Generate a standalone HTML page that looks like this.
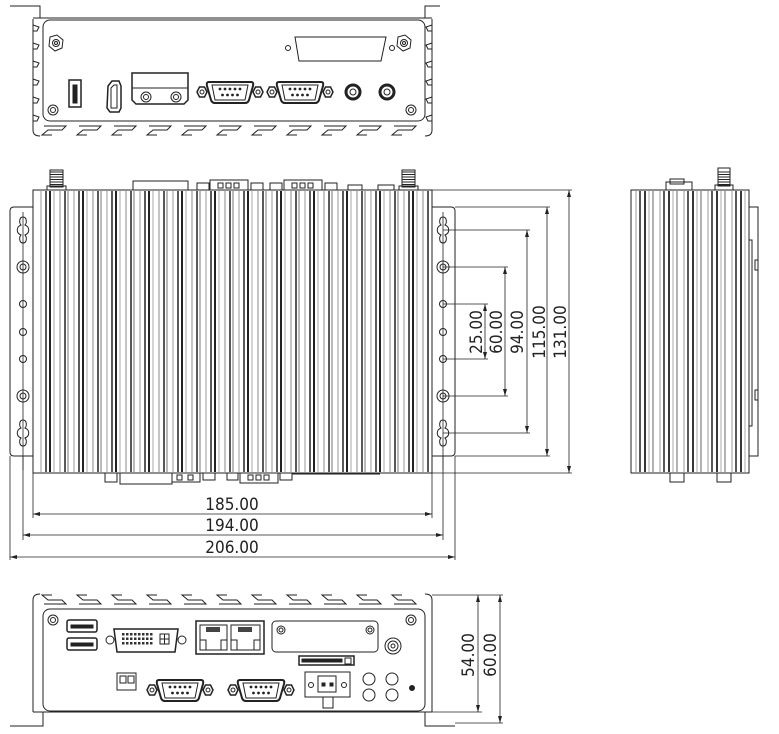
<!DOCTYPE html>
<html><head><meta charset="utf-8"><style>
html,body{margin:0;padding:0;background:#fff;}
svg{display:block;}
text{font-family:"DejaVu Sans Condensed","Liberation Sans",sans-serif;fill:#222;}
</style></head><body>
<svg id="s" width="779" height="734" viewBox="0 0 779 734" xmlns="http://www.w3.org/2000/svg" fill="none" stroke="#222" stroke-width="1">
<!-- ===== TOP VIEW ===== -->
<g id="top">
<path d="M10 6 H40 V18 M33 18 H432 M425 18 V6 H440"/>
<rect x="43" y="20" width="382" height="101" rx="7"/>
<g id="topfins"></g>
<polygon points="50,37 57,35 63,40 62,48 55,51 49,46" /><circle cx="56" cy="43" r="3.5"/><circle cx="56" cy="43" r="1.5"/>
<polygon points="398,37 405,35 411,40 410,48 403,51 397,46" /><circle cx="404" cy="43" r="3.5"/><circle cx="404" cy="43" r="1.5"/>
<circle cx="53" cy="110" r="5"/><circle cx="53" cy="110" r="2.5"/>
<circle cx="411" cy="110" r="5"/><circle cx="411" cy="110" r="2.5"/>
<path d="M295 37 H386 L381 61 H299 Z"/><circle cx="288" cy="48" r="2.5"/><circle cx="392" cy="48" r="2.5"/>
<rect x="69" y="80" width="12" height="27" stroke-width="1.5"/><rect x="73" y="85" width="4" height="18" fill="#222"/>
<path d="M108 86 L112 81 H119 L121 86 V108 L119 112 H110 L107 108 Z" stroke-width="1.5"/><path d="M111 88 L114 85 H117 V108 H111 Z"/>
<path d="M132 73 H188 V100 L184 104 H136 L132 100 Z" stroke-width="1.5"/><line x1="132" y1="88" x2="188" y2="88"/>
<circle cx="146" cy="97" r="5"/><circle cx="146" cy="97" r="2.5"/><circle cx="176" cy="97" r="5"/><circle cx="176" cy="97" r="2.5"/>
<g id="topdb"></g>
<circle cx="353" cy="92" r="7" stroke-width="3"/><circle cx="353" cy="92" r="3"/>
<circle cx="387" cy="92" r="7" stroke-width="3"/><circle cx="387" cy="92" r="3"/>
</g>

<!-- ===== MIDDLE VIEW ===== -->
<g id="mid">
<path d="M33 207 H14 Q10 207 10 211 V452 Q10 456 14 456 H33"/>
<path d="M432 207 H451 Q455 207 455 211 V452 Q455 456 451 456 H432"/>
<rect x="33" y="190" width="399" height="283"/>
<g id="midstripes"></g>
<rect x="50" y="170" width="13" height="17" fill="#fff"/>
<rect x="47" y="186" width="19" height="4"/>
<rect x="402" y="170" width="13" height="17" fill="#fff"/>
<rect x="399" y="186" width="19" height="4"/>
<!-- top connectors -->
<rect x="133" y="181" width="55" height="9"/>
<rect x="197" y="183" width="12" height="7"/><rect x="210" y="180" width="38" height="10"/><rect x="251" y="183" width="12" height="7"/>
<rect x="218" y="183" width="5" height="5"/><rect x="226" y="183" width="5" height="5"/><rect x="234" y="183" width="5" height="5"/>
<rect x="270" y="183" width="12" height="7"/><rect x="284" y="180" width="38" height="10"/><rect x="325" y="183" width="12" height="7"/>
<rect x="292" y="183" width="5" height="5"/><rect x="300" y="183" width="5" height="5"/><rect x="308" y="183" width="5" height="5"/>
<rect x="348" y="185" width="14" height="5"/><rect x="378" y="185" width="16" height="5"/>
<!-- bottom connectors -->
<rect x="105" y="473" width="12" height="9"/><rect x="120" y="473" width="52" height="11"/><rect x="172" y="473" width="28" height="9"/>
<rect x="177" y="475" width="5" height="5"/><rect x="188" y="475" width="5" height="5"/>
<rect x="203" y="473" width="12" height="7"/><rect x="227" y="473" width="11" height="7"/><rect x="240" y="473" width="38" height="10"/><rect x="280" y="473" width="12" height="7"/>
<rect x="248" y="475" width="5" height="5"/><rect x="256" y="475" width="5" height="5"/><rect x="264" y="475" width="5" height="5"/>
<line x1="292" y1="474" x2="380" y2="474"/>
<g id="holes"></g>
</g>

<!-- dims -->
<g stroke-width="0.8">
<line x1="33" y1="473" x2="33" y2="518"/><line x1="432" y1="473" x2="432" y2="518"/>
<line x1="23" y1="456" x2="23" y2="540"/><line x1="443" y1="456" x2="443" y2="540"/>
<line x1="10" y1="456" x2="10" y2="560"/><line x1="455" y1="456" x2="455" y2="560"/>
<line x1="33" y1="514" x2="432" y2="514"/><line x1="23" y1="535" x2="443" y2="535"/><line x1="10" y1="557" x2="455" y2="557"/>
<line x1="432" y1="190" x2="572" y2="190"/><line x1="432" y1="473" x2="572" y2="473"/>
<line x1="455" y1="207" x2="550" y2="207"/><line x1="455" y1="456" x2="550" y2="456"/>
<line x1="443" y1="230" x2="530" y2="230"/><line x1="443" y1="433" x2="530" y2="433"/>
<line x1="443" y1="267" x2="508" y2="267"/><line x1="443" y1="396" x2="508" y2="396"/>
<line x1="443" y1="304" x2="488" y2="304"/><line x1="443" y1="359" x2="488" y2="359"/>
<line x1="569" y1="190" x2="569" y2="473"/><line x1="547" y1="207" x2="547" y2="456"/>
<line x1="527" y1="230" x2="527" y2="433"/><line x1="505" y1="267" x2="505" y2="396"/><line x1="485" y1="304" x2="485" y2="359"/>
</g>
<g fill="#222" stroke="none" id="arrows"></g>
<g stroke="none">
<text x="232" y="510" font-size="17" text-anchor="middle">185.00</text>
<text x="232" y="531" font-size="17" text-anchor="middle">194.00</text>
<text x="232" y="553" font-size="17" text-anchor="middle">206.00</text>
<text transform="translate(482,332) rotate(-90)" font-size="17" text-anchor="middle">25.00</text>
<text transform="translate(502,332) rotate(-90)" font-size="17" text-anchor="middle">60.00</text>
<text transform="translate(523,332) rotate(-90)" font-size="17" text-anchor="middle">94.00</text>
<text transform="translate(545,332) rotate(-90)" font-size="17" text-anchor="middle">115.00</text>
<text transform="translate(566,332) rotate(-90)" font-size="17" text-anchor="middle">131.00</text>
<text transform="translate(474,655) rotate(-90)" font-size="17" text-anchor="middle">54.00</text>
<text transform="translate(496,655) rotate(-90)" font-size="17" text-anchor="middle">60.00</text>
</g>

<!-- ===== SIDE VIEW ===== -->
<g id="side">
<rect x="631" y="190" width="118" height="283"/>
<g id="sidestripes"></g>
<path d="M749 207 H758 V456 H749"/><path d="M749 240 H752 V426 H749"/>
<rect x="755" y="260" width="3" height="10"/><rect x="755" y="390" width="3" height="10"/>
<rect x="666" y="182" width="26" height="8"/><rect x="670" y="179" width="14" height="5"/>
<rect x="718" y="168" width="12" height="18" fill="#fff"/><rect x="715" y="185" width="18" height="5"/>
<rect x="670" y="473" width="14" height="9"/><rect x="717" y="473" width="14" height="9"/>
</g>
<g id="antL"></g>

<!-- ===== BOTTOM VIEW ===== -->
<g id="bot">
<rect x="43" y="609" width="382" height="102" rx="7"/>
<g id="botfins"></g>
<path d="M10 726 H43 V712 M33 712 H432 M425 712 V726 H455"/>
<circle cx="53" cy="620" r="5"/><circle cx="53" cy="620" r="2.5"/>
<circle cx="411" cy="620" r="5"/><circle cx="411" cy="620" r="2.5"/>
<rect x="67" y="620" width="30" height="12" rx="2" stroke-width="1.5"/><rect x="71" y="625" width="22" height="3" fill="#222"/>
<rect x="67" y="638" width="30" height="12" rx="2" stroke-width="1.5"/><rect x="71" y="643" width="22" height="3" fill="#222"/>
<circle cx="110" cy="640" r="4"/><circle cx="182" cy="640" r="4"/>
<path d="M114 629 H178 L175 652 H117 Z" stroke-width="1.5"/>
<g id="dvi"></g>
<rect x="196" y="621" width="68" height="33" stroke-width="1.5"/>
<path d="M200 625 H227 V650 H200 Z M231 625 H260 V650 H231 Z"/>
<rect x="206" y="627" width="14" height="5" fill="#444" stroke="none"/><rect x="238" y="627" width="14" height="5" fill="#444" stroke="none"/>
<path d="M200 640 H206 V650 M221 650 V640 H227 M231 640 H237 V650 M254 650 V640 H260"/>
<rect x="272" y="621" width="106" height="31" rx="4"/>
<circle cx="281" cy="630" r="4"/><circle cx="281" cy="630" r="2"/><circle cx="370" cy="630" r="4"/><circle cx="370" cy="630" r="2"/>
<circle cx="393" cy="646" r="8"/><circle cx="393" cy="646" r="5"/><circle cx="393" cy="646" r="2"/>
<rect x="299" y="656" width="55" height="9" stroke-width="1.5"/><rect x="302" y="659" width="40" height="3" fill="#222"/><rect x="345" y="658" width="6" height="6"/>
<rect x="117" y="673" width="19" height="17"/><rect x="120" y="676" width="6" height="7"/><rect x="128" y="676" width="6" height="7"/>
<g id="botdb"></g>
<rect x="305" y="672" width="45" height="25"/><path d="M318 676 H336 V692 H318 Z"/><rect x="323" y="697" width="10" height="11"/>
<circle cx="311" cy="685" r="2.5"/><circle cx="344" cy="685" r="2.5"/>
<rect x="322" y="683" width="3" height="3" fill="#222"/><rect x="330" y="683" width="3" height="3" fill="#222"/>
<circle cx="369" cy="679" r="6"/><circle cx="369" cy="695" r="6"/><circle cx="392" cy="679" r="6"/><circle cx="392" cy="695" r="6"/>
<circle cx="412" cy="688" r="2.5" fill="#222"/>
<g stroke-width="0.8">
<line x1="432" y1="595" x2="503" y2="595"/><line x1="432" y1="712" x2="482" y2="712"/><line x1="455" y1="723" x2="503" y2="723"/>
<line x1="478" y1="595" x2="478" y2="712"/><line x1="500" y1="595" x2="500" y2="723"/>
</g>
</g>
</svg>
<script>
var NS="http://www.w3.org/2000/svg";
function el(p,t,a){var e=document.createElementNS(NS,t);for(var k in a)e.setAttribute(k,a[k]);document.getElementById(p).appendChild(e);return e;}
var pat=[[3,"#999",1],[8,"#222",1.5],[12,"#222",2],[16,"#aaa",1],[22,"#888",1],[27,"#222",1.5],[30,"#777",1]];
for(var x=38;x<428;x+=33){pat.forEach(function(p){var xx=x+p[0];if(xx<430)el("midstripes","line",{x1:xx,y1:191,x2:xx,y2:472,stroke:p[1],"stroke-width":p[2]});});}
for(var x=634;x<747;x+=24){[[2,"#999",1],[6,"#222",1.5],[11,"#222",1.8],[15,"#aaa",1],[19,"#666",1]].forEach(function(p){var xx=x+p[0];if(xx<748)el("sidestripes","line",{x1:xx,y1:191,x2:xx,y2:472,stroke:p[1],"stroke-width":p[2]});});}
[[50,63],[402,415],[718,730]].forEach(function(a){for(var y=172;y<186;y+=2.5)el("antL","line",{x1:a[0],y1:y,x2:a[1],y2:y});});
[23,443].forEach(function(cx){
 el("holes","line",{x1:cx,y1:212,x2:cx,y2:470,"stroke-width":0.8});
 [230,433].forEach(function(cy){el("holes","path",{d:"M"+cx+" "+(cy-13)+" c4 0 4 6 2 8 c5 2 5 8 0 10 c2 2 2 8 -2 8 c-4 0 -4 -6 -2 -8 c-5 -2 -5 -8 0 -10 c-2 -2 -2 -8 2 -8 Z"});});
 [267,396].forEach(function(cy){el("holes","circle",{cx:cx,cy:cy,r:6});el("holes","circle",{cx:cx,cy:cy,r:3});});
 [304,332,359].forEach(function(cy){el("holes","circle",{cx:cx,cy:cy,r:3.5});});
});
// DVI pins
for(var i=0;i<8;i++)for(var j=0;j<3;j++)el("dvi","rect",{x:122+i*4,y:633+j*4.5,width:2.5,height:2.5,fill:"#333",stroke:"none"});
el("dvi","path",{d:"M160 634 h9 v10 h-9 Z M164.5 634 v10 M160 639 h9"});
function db(g,cx,cy){
 [cx-28,cx+28].forEach(function(ex){el(g,"polygon",{points:(ex-5)+","+cy+" "+(ex-2.5)+","+(cy-5)+" "+(ex+2.5)+","+(cy-5)+" "+(ex+5)+","+cy+" "+(ex+2.5)+","+(cy+5)+" "+(ex-2.5)+","+(cy+5),"stroke-width":1.5});el(g,"circle",{cx:ex,cy:cy,r:2});});
 el(g,"path",{d:"M"+(cx-21)+" "+(cy-10)+" H"+(cx+21)+" Q"+(cx+24)+" "+(cy-10)+" "+(cx+23)+" "+(cy-6)+" L"+(cx+19)+" "+(cy+8)+" Q"+(cx+18)+" "+(cy+11)+" "+(cx+15)+" "+(cy+11)+" H"+(cx-15)+" Q"+(cx-18)+" "+(cy+11)+" "+(cx-19)+" "+(cy+8)+" L"+(cx-23)+" "+(cy-6)+" Q"+(cx-24)+" "+(cy-10)+" "+(cx-21)+" "+(cy-10)+" Z","stroke-width":2});
 el(g,"path",{d:"M"+(cx-18)+" "+(cy-7)+" H"+(cx+18)+" L"+(cx+15)+" "+(cy+8)+" H"+(cx-15)+" Z"});
 for(var i=0;i<5;i++)el(g,"circle",{cx:cx-10+i*5,cy:cy-3,r:0.9,fill:"#222"});
 for(var i=0;i<4;i++)el(g,"circle",{cx:cx-7.5+i*5,cy:cy+3,r:0.9,fill:"#222"});
}
db("topdb",230,92);db("topdb",300,92);db("botdb",180,690);db("botdb",261,690);
// fins: base = panel edge y, dir = outward direction
function fins(g,base,dir,sy0,sy1){
 // outer profile
 var d="";
 for(var x=40;x<425;x+=35){
  var y1=base+dir*4,y2=base+dir*13;
  d+=" M"+(x+4)+" "+y1+" h22 l-4 "+(dir*4)+" h-14 l-6 "+(dir*5)+" h10";
 }
 el(g,"path",{d:d});
 el(g,"path",{d:"M33 "+sy0+" V"+(base+dir*8)+" Q33 "+(base+dir*14)+" 40 "+(base+dir*14)+" M432 "+sy0+" V"+(base+dir*8)+" Q432 "+(base+dir*14)+" 425 "+(base+dir*14)});
 for(var y=sy0+6;y<sy1-6;y+=18){el(g,"path",{d:"M33 "+y+" l6 2 l-2 4 h-4 M432 "+y+" l-6 2 l2 4 h4"});}
}
fins("topfins",122,1,19,122);fins("botfins",608,-1,712,608);
function ah(x,y,dx,dy){var L=7,W=2;var px=-dy,py=dx;el("arrows","polygon",{points:x+","+y+" "+(x+dx*L+px*W)+","+(y+dy*L+py*W)+" "+(x+dx*L-px*W)+","+(y+dy*L-py*W)});}
[[33,432,514],[23,443,535],[10,455,557]].forEach(function(a){ah(a[0],a[2],1,0);ah(a[1],a[2],-1,0);});
[[569,190,473],[547,207,456],[527,230,433],[505,267,396],[485,304,359],[478,595,712],[500,595,723]].forEach(function(a){ah(a[0],a[1],0,1);ah(a[0],a[2],0,-1);});
</script>
</body></html>
